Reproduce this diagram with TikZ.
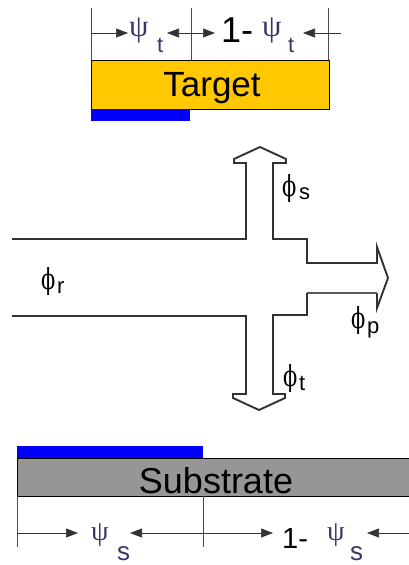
\documentclass[tikz,border=0pt]{standalone}
\usepackage{fontspec}
\setmainfont{Liberation Sans}
\newfontfamily\phifont{DejaVu Serif}
\newfontfamily\psifont{Liberation Serif}
\usetikzlibrary{arrows.meta}

\definecolor{targetorange}{RGB}{255,200,0}
\definecolor{substrategray}{RGB}{150,150,150}
\definecolor{filmblue}{RGB}{0,0,255}
\definecolor{psiink}{RGB}{55,55,105}
\definecolor{wallgray}{RGB}{50,50,50}

% flux symbol
\newcommand{\fluxsym}{{\phifont\fontsize{29}{29}\selectfont\scalebox{0.72}[1]{ϕ}}}

\begin{document}
\begin{tikzpicture}[x=1pt,y=-1pt,
  wall/.style={draw=wallgray, line width=1.9pt, line join=miter},
  slab/.style={draw=black, line width=0.7pt},
  guide/.style={draw=black!70, line width=0.7pt},
  dimarrow/.style={draw=black!80, line width=0.7pt, -{Triangle[length=12pt,width=9pt]}},
  txt/.style={inner sep=0pt, anchor=base west},
  psi/.style={txt, text=psiink, font=\psifont\fontsize{31}{31}\selectfont},
  psisub/.style={txt, text=psiink, font=\fontsize{22}{22}\selectfont},
  flux/.style={txt},
  fluxsub/.style={txt, font=\fontsize{22}{22}\selectfont}]
\useasboundingbox (0,0) rectangle (409,565);

% ---------- target ----------
\node[slab, fill=targetorange, minimum width=238pt, minimum height=49pt,
      inner sep=0pt, anchor=north west] (target) at (91,60) {};
\node[txt, font=\fontsize{35}{35}\selectfont, anchor=base] (targetlbl) at (212,96) {Target};
\fill[filmblue] (91,109) rectangle (190,121);

% dimension marks above the target
\coordinate (tl) at (91,8);
\coordinate (tm) at (191,8);
\coordinate (tr) at (328,8);
\draw[guide] (tl) -- (91,60);
\draw[guide] (tm) -- (191,60);
\draw[guide] (tr) -- (328,60);
\coordinate (tla) at (91,33);
\coordinate (tma) at (191,33);
\coordinate (tra) at (341,33);
\draw[dimarrow] (tla) -- (128,33);
\draw[dimarrow] (tma) -- (167,33);
\draw[dimarrow] (tma) -- (215,33);
\draw[dimarrow] (tra) -- (303,33);
\node[psi] (psit1) at (129,36) {ψ};
\node[psisub] (psit1s) at (157,52) {t};
\node[txt, font=\fontsize{36}{36}\selectfont] (onet) at (221,42) {1-};
\node[psi] (psit2) at (262,36) {ψ};
\node[psisub] (psit2s) at (288,52) {t};

% ---------- flux channel ----------
\draw[wall] (12,239) -- (246,239) -- (246,163) -- (234,163) -- (234,159)
  -- (260,147) -- (286,159) -- (286,163) -- (273,163) -- (273,239)
  -- (307,239) -- (307,263) -- (377,263) -- (377,247) -- (388,278)
  -- (377,308) -- (377,293);
\draw[wall, line width=1.1pt, draw=wallgray!80] (377,293) -- (307,293);
\draw[wall] (307,293) -- (307,315) -- (273,315) -- (273,394) -- (285,394)
  -- (285,398) -- (259,410) -- (233,398) -- (233,394) -- (246,394)
  -- (246,316) -- (12,316);

\node[flux] (phis) at (282,196) {\fluxsym};
\node[fluxsub] (phiss) at (299,199) {s};
\node[flux] (phir) at (41,289) {\fluxsym};
\node[fluxsub] (phirs) at (57,293) {r};
\node[flux] (phip) at (351,328) {\fluxsym};
\node[fluxsub] (phips) at (367,333) {p};
\node[flux] (phit) at (283,386) {\fluxsym};
\node[fluxsub] (phits) at (299,390) {t};

% ---------- substrate ----------
\fill[filmblue] (17,446) rectangle (203,458);
\draw[slab, fill=substrategray] (17,458) rectangle (415,496);
\node[txt, font=\fontsize{36}{36}\selectfont, anchor=base] (sublbl) at (216,493) {Substrate};

\coordinate (sl) at (17,547);
\coordinate (sm) at (203,547);
\draw[guide] (17,496) -- (sl);
\draw[guide] (203,496) -- (sm);
\coordinate (sla) at (17,533);
\coordinate (sma) at (203,533);
\coordinate (sra) at (412,533);
\draw[dimarrow] (sla) -- (78,533);
\draw[dimarrow] (sma) -- (130,533);
\draw[dimarrow] (sma) -- (273,533);
\draw[dimarrow] (sra) -- (367,533);
\node[psi, font=\psifont\fontsize{28}{28}\selectfont] (psis1) at (91,540) {ψ};
\node[psisub, font=\fontsize{26}{26}\selectfont] (psis1s) at (117,560) {s};
\node[txt, font=\fontsize{29}{29}\selectfont] (ones) at (282,548) {1-};
\node[psi, font=\psifont\fontsize{28}{28}\selectfont] (psis2) at (327,540) {ψ};
\node[psisub, font=\fontsize{26}{26}\selectfont] (psis2s) at (350,560) {s};
\end{tikzpicture}
\end{document}
